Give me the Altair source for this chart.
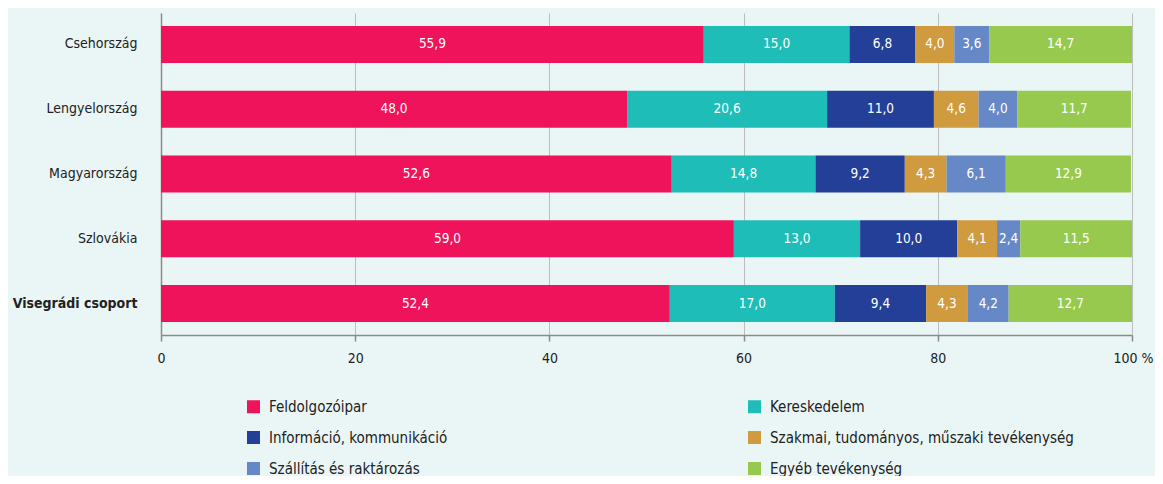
import altair as alt
import pandas as pd

FONT = "DejaVu Sans Condensed, Liberation Sans Narrow, sans-serif"

countries = ["Csehország", "Lengyelország", "Magyarország", "Szlovákia", "Visegrádi csoport"]
series = [
    "Feldolgozóipar",
    "Kereskedelem",
    "Információ, kommunikáció",
    "Szakmai, tudományos, műszaki tevékenység",
    "Szállítás és raktározás",
    "Egyéb tevékenység",
]
colors = ["#EE135A", "#1FBDB8", "#233F97", "#D09A3E", "#6688C6", "#97C94F"]

feldolgozoipar = [55.9, 48.0, 52.6, 59.0, 52.4]
kereskedelem = [15.0, 20.6, 14.8, 13.0, 17.0]
informacio = [6.8, 11.0, 9.2, 10.0, 9.4]
szakmai = [4.0, 4.6, 4.3, 4.1, 4.3]
szallitas = [3.6, 4.0, 6.1, 2.4, 4.2]
egyeb = [14.7, 11.7, 12.9, 11.5, 12.7]

x_ticks = [0, 20, 40, 60, 80, 100]

all_values = [feldolgozoipar, kereskedelem, informacio, szakmai, szallitas, egyeb]
rows = []
for si, (s, vals) in enumerate(zip(series, all_values)):
    for c, v in zip(countries, vals):
        rows.append({"country": c, "series": s, "value": v, "order": si})
df = pd.DataFrame(rows)

base = alt.Chart(df).transform_stack(
    stack="value",
    groupby=["country"],
    as_=["x0", "x1"],
    sort=[alt.SortField("order", "ascending")],
).transform_calculate(
    mid="(datum.x0 + datum.x1) / 2",
    label="replace(format(datum.value, '.1f'), '.', ',')",
)

y_enc = alt.Y(
    "country:N",
    sort=countries,
    scale=alt.Scale(paddingInner=0.43, paddingOuter=0.2),
    axis=alt.Axis(
        title=None,
        ticks=False,
        domain=True,
        domainColor="#8a8a8a",
        domainWidth=1.5,
        labelPadding=24,
        labelFontSize=14,
        labelColor="#222222",
        labelFont=FONT,
        labelFontWeight=alt.condition(
            "datum.value == 'Visegrádi csoport'", alt.value("bold"), alt.value("normal")
        ),
    ),
)

x_enc = alt.X(
    "x0:Q",
    scale=alt.Scale(domain=[0, 100], nice=False),
    axis=alt.Axis(
        title=None,
        values=x_ticks,
        grid=True,
        gridColor="#bdbdbd",
        gridWidth=1,
        domainColor="#8a8a8a",
        domainWidth=1.5,
        tickColor="#8a8a8a",
        tickSize=6,
        tickWidth=1.5,
        labelFontSize=14,
        labelColor="#222222",
        labelFont=FONT,
        labelPadding=10,
        labelFlush=False,
        labelExpr="datum.value == 100 ? '100 %' : datum.label",
        labelOffset=alt.condition("datum.value == 100", alt.value(1), alt.value(0)),
    ),
)

bars = base.mark_bar().encode(
    x=x_enc,
    x2="x1:Q",
    y=y_enc,
    color=alt.Color(
        "series:N",
        scale=alt.Scale(domain=series, range=colors),
        legend=alt.Legend(
            title=None,
            orient="none",
            direction="horizontal",
            legendX=85,
            legendY=386,
            columns=2,
            columnPadding=299,
            rowPadding=15,
            symbolType="square",
            symbolSize=169,
            symbolStrokeWidth=0,
            symbolOpacity=1,
            labelFontSize=15,
            labelFont=FONT,
            labelColor="#222222",
            labelOffset=8,
            labelLimit=0,
        ),
    ),
)

text = base.mark_text(color="white", fontSize=13.5, font=FONT).encode(
    x="mid:Q",
    y=alt.Y("country:N", sort=countries),
    text="label:N",
)

chart = (
    alt.layer(bars, text)
    .properties(
        width=971,
        height=322,
        autosize=alt.AutoSizeParams(type="none"),
        padding={"left": 153, "top": 5, "right": 23, "bottom": 141},
        background="#EAF5F5",
    )
    .configure_view(stroke=None)
)

chart.save("out.html", embed_options={"renderer": "svg", "actions": False})
